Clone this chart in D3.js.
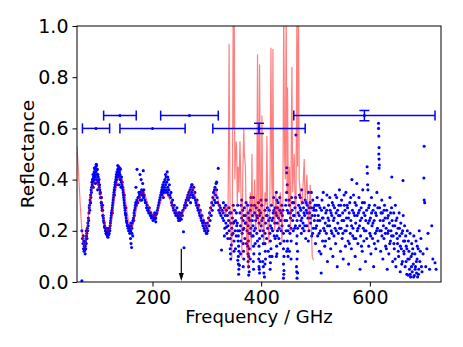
<!DOCTYPE html>
<html>
<head>
<meta charset="utf-8">
<script src="https://cdn.jsdelivr.net/npm/d3@7"></script>
<style>
body { margin: 0; background: #fff; }
text { font-family: "DejaVu Sans", sans-serif; }
</style>
</head>
<body>
<svg id="chart" width="463" height="347"></svg>
<script>
// axis ticks
var xTicks = [200, 400, 600];
var yTicks = [0, 0.2, 0.4, 0.6, 0.8, 1.0];

// measured reflectance, smooth part (freq GHz, reflectance)
var dotsRipple = [
  [70,0.005],[70,0.20],[71,0.17],[72,0.15],[72.5,0.18],[73,0.13],[73.5,0.16],[74,0.12],[74.5,0.14],[75,0.15],
  [75.5,0.125],[76,0.14],[76.5,0.16],[77,0.13],[77.5,0.17],[78,0.15],[78.5,0.18],[79,0.19],[79.5,0.17],[80,0.21],
  [80.5,0.2],[81,0.23],[81.5,0.22],[82,0.25],[82.5,0.24],[83,0.27],[83.5,0.29],[84,0.3],[84.5,0.28],[85,0.32],
  [85.5,0.31],[86,0.34],[86.5,0.33],[87,0.36],[87.5,0.35],[88,0.37],[88.5,0.39],[89,0.38],[89.5,0.4],[90,0.40],
  [90.5,0.42],[91,0.39],[91.5,0.41],[92,0.41],[92.5,0.43],[93,0.40],[93.5,0.42],[94,0.42],[94.5,0.44],[95,0.41],
  [95.5,0.45],[96,0.43],[96.5,0.46],[97,0.40],[97.5,0.44],[98,0.42],[98.5,0.44],[99,0.39],[99.5,0.42],[100,0.41],
  [100.5,0.39],[101,0.38],[101.5,0.40],[102,0.37],[102.5,0.38],[103,0.36],[103.5,0.345],[104,0.35],[104.5,0.33],[105,0.33],
  [105.5,0.31],[106,0.31],[106.5,0.3],[107,0.29],[107.5,0.28],[108,0.28],[108.5,0.26],[109,0.26],[109.5,0.25],[110,0.24],
  [110.5,0.235],[111,0.23],[111.5,0.215],[112,0.22],[113,0.21],[113.5,0.2],[114,0.20],[114.5,0.19],[115,0.19],[115.5,0.2],
  [116,0.185],[117,0.18],[117.5,0.2],[118,0.19],[119,0.20],[119.5,0.185],[120,0.19],[120.5,0.21],[121,0.21],[121.5,0.2],
  [122,0.22],[122.5,0.23],[123,0.24],[123.5,0.25],[124,0.26],[124.5,0.27],[125,0.27],[125.5,0.28],[126,0.29],[126.5,0.3],
  [127,0.31],[127.5,0.32],[128,0.33],[128.5,0.34],[129,0.35],[129.5,0.36],[130,0.36],[130.5,0.37],[131,0.38],[131.5,0.39],
  [132,0.39],[132.5,0.4],[133,0.41],[133.5,0.42],[134,0.40],[134.5,0.43],[135,0.42],[135.5,0.41],[136,0.44],[136.5,0.42],
  [137,0.43],[137.5,0.45],[138,0.41],[138.5,0.44],[139,0.43],[139.5,0.42],[140,0.42],[140.5,0.4],[141,0.44],[141.5,0.41],
  [142,0.40],[142.5,0.39],[143,0.41],[143.5,0.38],[144,0.39],[144.5,0.37],[145,0.37],[145.5,0.36],[146,0.35],[146.5,0.34],
  [147,0.33],[147.5,0.32],[148,0.31],[148.5,0.3],[149,0.29],[149.5,0.28],[150,0.27],[150.5,0.265],[151,0.26],[151.5,0.25],
  [152,0.24],[152.5,0.235],[153,0.23],[153.5,0.22],[154,0.22],[155,0.21],[155.5,0.22],[156,0.20],[157,0.22],[157.5,0.21],
  [158,0.19],[159,0.21],[159.5,0.17],[160,0.20],[160.5,0.15],[161,0.22],[161.5,0.135],[162,0.21],[163,0.23],[163.5,0.18],
  [164,0.24],[165,0.25],[165.5,0.24],[166,0.27],[166.5,0.26],[167,0.28],[168,0.29],[168.5,0.3],[169,0.31],[169.5,0.37],
  [170,0.30],[171,0.32],[171.5,0.44],[172,0.31],[173,0.31],[173.5,0.33],[174,0.33],[175,0.35],[175.5,0.33],[176,0.34],
  [177,0.42],[177.5,0.32],[178,0.35],[179,0.40],[179.5,0.34],[180,0.36],[181,0.34],[182,0.385],[182.5,0.35],[183,0.435],
  [183.5,0.33],[184,0.33],[185,0.34],[186,0.32],[187,0.31],[188,0.31],[189,0.29],[190,0.30],[191,0.28],[192,0.28],
  [193,0.27],[194,0.29],[195,0.27],[196,0.26],[197,0.27],[198,0.25],[199,0.26],[200,0.255],[201,0.24],[202,0.26],
  [203,0.25],[204,0.245],[205,0.26],[206,0.25],[207,0.265],[208,0.27],[209,0.28],[210,0.29],[211,0.30],[212,0.31],
  [213,0.32],[214,0.33],[215,0.34],[216,0.35],[217,0.36],[217.5,0.34],[218,0.37],[219,0.38],[219.5,0.35],[220,0.36],
  [221,0.39],[221.5,0.36],[222,0.37],[223,0.40],[223.5,0.35],[224,0.38],[225,0.41],[225.5,0.36],[226,0.39],[227,0.43],
  [227.5,0.35],[228,0.37],[229,0.40],[229.5,0.34],[230,0.36],[231,0.38],[232,0.34],[233,0.33],[234,0.35],[235,0.31],
  [236,0.30],[237,0.32],[238,0.29],[239,0.28],[240,0.30],[241,0.27],[242,0.28],[243,0.26],[244,0.27],[245,0.29],
  [246,0.26],[247,0.25],[248,0.27],[249,0.26],[250,0.24],[251,0.25],[252,0.26],[253,0.245],[254,0.27],[255,0.26],
  [256,0.28],[257,0.196],[258,0.134],[258.5,0.29],[259,0.30],[260,0.29],[261,0.31],[262,0.32],[263,0.30],[264,0.33],
  [265,0.34],[266,0.32],[267,0.35],[268,0.33],[269,0.36],[270,0.34],[271,0.37],[272,0.35],[273,0.38],[274,0.36],
  [275,0.34],[276,0.37],[277,0.33],[278,0.35],[279,0.32],[280,0.31],[281,0.30],[282,0.32],[283,0.29],[284,0.28],
  [285,0.30],[286,0.27],[287,0.26],[288,0.28],[289,0.25],[290,0.24],[291,0.26],[292,0.23],[293,0.22],[294,0.24],
  [295,0.21],[296,0.23],[297,0.20],[298,0.22],[299,0.19],[300,0.21],[301,0.23],[302,0.20],[303,0.25],[304,0.22],
  [305,0.27],[306,0.24],[307,0.29],[308,0.26],[309,0.31],[310,0.28],[311,0.33],[312,0.30],[312.5,0.35],[313,0.35],
  [314,0.32],[315,0.37],[316,0.34],[317,0.385],[318,0.36],[319,0.33],[320,0.31],[321,0.444],[322,0.28],[323,0.30],
  [324,0.27],[325,0.29],[326,0.26],[327,0.125],[328,0.28],[329,0.25],[330,0.27]
];

// spread of the ripple band around peaks and troughs
var dotsRippleSpread = [
  [76,0.11],[78,0.2],[86,0.31],[91,0.37],[93,0.445],[95,0.385],[97,0.455],[99,0.36],[106,0.33],[108,0.3],
  [116,0.21],[118,0.175],[126,0.27],[130,0.34],[134,0.38],[136,0.455],[138,0.38],[140,0.445],[142,0.37],[148,0.34],
  [151,0.29],[160,0.23],[162,0.19],[180,0.32],[184,0.36],[204,0.27],[206,0.235],[220,0.33],[224,0.42],[228,0.41],
  [248,0.24],[250,0.27],[270,0.31],[272,0.38],[274,0.33],[296,0.2],[300,0.19],[314,0.36],[316,0.31],[318,0.39]
];

// measured reflectance, noisy part 330-500 GHz
var dotsNoisyMid = [
  [331,0.24],[332,0.29],[333,0.21],[334,0.26],[335,0.23],[336,0.28],[337,0.19],[338,0.26],[339,0.22],[340,0.24],
  [341,0.2],[342,0.27],[343,0.17],[344,0.23],[345,0.145],[346,0.21],[347,0.25],[348,0.19],[349,0.23],[350,0.16],
  [351,0.28],[352,0.2],[353,0.24],[354,0.18],[355,0.22],
  [356,0.23],[357,0.2],[358,0.18],[357.5,0.16],[358.5,0.14],[359,0.12],[358,0.1],[357,0.085],[358,0.07],[359,0.05],[360,0.065],
  [361,0.27],[362,0.22],[363,0.3],[364,0.25],[365,0.19],[366,0.28],[367,0.24],[368,0.21],[369,0.29],[370,0.17],
  [371,0.26],[372,0.23],[373,0.15],
  [375,0.30],[376,0.27],[377,0.25],[376,0.22],[377.5,0.19],[376.5,0.16],[378,0.13],[377,0.1],[376,0.08],[377,0.06],[378,0.04],[377,0.027],
  [379,0.24],[380,0.28],[381,0.21],[382,0.3],[383,0.18],[384,0.26],[385,0.22],[386,0.33],[387,0.2],[388,0.27],
  [389,0.15],[390,0.24],[391,0.29],[392,0.19],[393,0.25],
  [395,0.31],[396,0.28],[397,0.26],[396,0.23],[398,0.2],[397,0.17],[396,0.14],[397,0.11],[398,0.08],[396,0.06],[397,0.035],
  [399,0.27],[400,0.22],[401,0.3],[402,0.18],[403,0.25],[404,0.2],[405,0.035],[406,0.02],[404,0.06],[407,0.28],
  [408,0.23],[409,0.32],[410,0.17],[411,0.26],[412,0.21],[413,0.12],
  [415,0.28],[416,0.25],[417,0.22],[416,0.19],[417,0.16],[418,0.13],[416,0.1],[417,0.075],
  [419,0.3],[420,0.24],[421,0.2],[422,0.27],[423,0.33],[424,0.18],[425,0.23],[426,0.29],
  [428,0.35],[429,0.32],[430,0.29],[428.5,0.26],[429.5,0.23],[430,0.2],[429,0.18],
  [432,0.25],[433,0.21],[434,0.28],[435,0.15],[436,0.24],[437,0.2],[438,0.3],[439,0.26],
  [441,0.19],[442,0.16],[441,0.13],[442,0.1],[441,0.07],[442,0.045],[441,0.015],
  [447,0.446],[447,0.427],[448,0.38],[447,0.35],[446,0.32],[448,0.28],[447,0.24],[446,0.2],[448,0.16],[447,0.12],
  [450,0.27],[451,0.22],[452,0.3],[453,0.19],[454,0.25],[455,0.21],[456,0.33],[457,0.28],[458,0.24],[459,0.2],
  [460,0.31],[461,0.26],[462,0.29],[463,0.22],[464,0.574],
  [466,0.24],[467,0.21],[466,0.18],[465,0.15],[467,0.12],[466,0.09],[465,0.06],[467,0.035],[466,0.015],
  [469,0.3],[470,0.26],[471,0.22],[472,0.33],[473,0.28],[474,0.19],[475,0.25],[476,0.31],[477,0.23],[478,0.29],
  [479,0.2],[480,0.26],[481,0.32],[482,0.17],[483,0.28],[484,0.22],[485,0.3],[486,0.25],[487,0.35],[488,0.2],
  [489,0.27],[490,0.31],[491,0.23],[492,0.29],[493,0.18],[494,0.26],[495,0.32],[496,0.21],[497,0.28],[498,0.24],
  [499,0.3],[500,0.15]
];

// low-lying points of the streaks between 340 and 470 GHz
var dotsStreakLow = [
  [343,0.13],[343.5,0.11],[344,0.09],[350,0.12],[358.5,0.03],[362,0.11],[367,0.15],[367.5,0.12],[368,0.09],[367,0.06],
  [375.5,0.14],[376,0.11],[380,0.09],[386,0.14],[386.5,0.11],[385.5,0.08],[386,0.05],[395.5,0.09],[396.5,0.05],[403,0.08],
  [407,0.15],[407.5,0.12],[408,0.09],[407,0.07],[416.5,0.05],[420,0.1],[428.5,0.14],[429,0.11],[428,0.1],[441.5,0.03],
  [449,0.13],[449.5,0.1],[452,0.12],[455,0.09],[465.5,0.04]
];

// measured reflectance, noisy part above 500 GHz
var dotsNoisyHigh = [
  [501,0.28],[502,0.22],[503,0.33],[504,0.18],[505,0.26],[506,0.3],[507,0.12],[508,0.24],[509,0.2],[510,0.11],
  [510.5,0.035],[511,0.28],[512,0.32],[513,0.16],[514,0.25],[515,0.21],[516,0.29],[517,0.14],[518,0.23],[519,0.27],
  [520,0.19],[521,0.34],[522,0.08],[523,0.25],[524,0.3],[525,0.17],[526,0.22],[527,0.28],[528,0.13],[529,0.2],
  [530,0.26],[531,0.31],[532,0.1],[533,0.24],[534,0.18],[535,0.29],[536,0.21],[537,0.15],[538,0.27],[539,0.33],
  [540,0.06],[541,0.23],[542,0.19],[543,0.3],[544,0.36],[545,0.26],[546,0.12],[547,0.21],[548,0.32],[549,0.17],
  [550,0.27],[551,0.09],[552,0.24],[553,0.3],[554,0.2],[555,0.14],[556,0.35],[557,0.25],[558,0.22],[559,0.29],
  [560,0.16],[561,0.07],[562,0.27],[563,0.31],[564,0.19],[565,0.24],[566,0.13],[567,0.40],[568,0.28],[569,0.21],
  [570,0.34],[571,0.17],[572,0.26],[573,0.1],[574,0.23],[575,0.3],[576,0.385],[577,0.2],[578,0.15],[579,0.27],
  [580,0.33],[581,0.22],[582,0.05],[583,0.18],[584,0.29],[585,0.25],[586,0.12],[587,0.36],[588,0.21],[589,0.16],
  [590,0.31],[591,0.26],[592,0.08],[593,0.2],[594,0.28],[595,0.45],[595.5,0.425],[596,0.38],[596.5,0.36],[597,0.23],
  [598,0.14],[599,0.3],[600,0.19],[601,0.25],[602,0.11],[603,0.33],[604,0.22],[605,0.17],[606,0.28],[607,0.06],
  [608,0.24],[609,0.3],[610,0.19],[611,0.13],[612,0.26],[613,0.35],[614,0.21],[615,0.16],
  [616,0.62],[616,0.6],[616.5,0.57],[617,0.525],[616.5,0.50],[617,0.48],[617.5,0.457],[617,0.445],
  [618,0.29],[619,0.24],[620,0.12],[621,0.2],[622,0.32],[623,0.27],[624,0.09],[625,0.22],[626,0.17],[627,0.3],
  [628,0.25],[629,0.14],[630,0.21],[631,0.28],[632,0.05],[633,0.19],[634,0.26],[635,0.11],[636,0.23],[637,0.33],
  [638,0.16],[639,0.2],[640,0.29],[640.5,0.41],[641,0.24],[642,0.08],[643,0.18],[644,0.27],[645,0.13],[646,0.22],
  [647,0.3],[648,0.06],[649,0.19],[650,0.25],[651,0.15],[652,0.21],[653,0.1],[654,0.27],[655,0.18],[656,0.04],
  [657,0.23],[658,0.13],[659,0.19],[660,0.08],[661,0.396],[661.5,0.26],[662,0.16],[663,0.11],[664,0.22],[665,0.06],
  [666,0.18],[667,0.14],[668,0.03],[669,0.2],[670,0.09],[670.5,0.027],[671,0.16],[672,0.12],[673,0.05],[674,0.19],
  [675,0.02],[676,0.1],[677,0.15],[678,0.04],[679,0.13],[680,0.07],[681,0.18],[682,0.025],[683,0.11],[684,0.06],
  [685,0.16],[686,0.035],[687,0.09],[688,0.02],[689,0.13],[690,0.05],[691,0.2],[692,0.08],[694,0.17],[696,0.04],
  [698,0.11],[700,0.53],[699.5,0.406],[700,0.32],[701,0.31],[703,0.06],[705,0.13],[707,0.19],[710,0.05],[714,0.22],
  [716,0.09],[720,0.075],[722,0.05]
];

// more of the noisy cloud read between the points above
var dotsNoisyExtra = [
  [330.5,0.31],[332.3,0.18],[334.6,0.3],[336.2,0.215],[338.7,0.17],[340.4,0.29],[344.8,0.27],[346.3,0.185],[348.6,0.3],[350.2,0.235],
  [352.7,0.13],[354.4,0.27],[356.8,0.3],[360.3,0.2],[362.6,0.16],[364.2,0.32],[366.7,0.205],[368.3,0.26],[370.6,0.23],[372.2,0.31],
  [374,0.2],[379.6,0.19],[381.3,0.33],[383.7,0.24],[385.2,0.18],[387.8,0.3],[389.4,0.21],[391.7,0.26],[393.2,0.16],
  [399.6,0.32],[401.3,0.24],[403.8,0.15],[407.2,0.19],[409.7,0.26],[411.4,0.29],[413.6,0.24],[419.3,0.21],[421.8,0.25],[423.4,0.28],
  [425.7,0.17],[427,0.27],[431,0.31],[432.6,0.17],[434.3,0.33],[436.8,0.27],[438.4,0.22],[440,0.28],[443.7,0.24],[445,0.3],
  [449.6,0.2],[451.3,0.32],[453.8,0.27],[455.2,0.16],[457.7,0.31],[459.4,0.26],[461.6,0.21],[463.3,0.33],[468,0.27],
  [470.4,0.34],[471.7,0.29],[473.2,0.24],[474.6,0.36],[476.3,0.21],[478.8,0.27],[480.3,0.22],[482.7,0.31],[484.4,0.27],[486.8,0.16],
  [488.2,0.29],[490.6,0.25],[492.3,0.35],[494.7,0.19],[496.4,0.29],[498.8,0.26],[500.3,0.21],[502.6,0.3],[504.2,0.24],[506.7,0.19],
  [508.3,0.29],[512.6,0.25],[514.3,0.35],[516.8,0.2],[518.4,0.16],[520.7,0.28],[522.2,0.22],[524.6,0.24],[526.3,0.33],[528.7,0.27],
  [530.4,0.19],[532.8,0.3],[534.3,0.25],[536.6,0.34],[538.2,0.2],
  [540.7,0.28],[542.3,0.26],[544.6,0.21],[546.2,0.3],[548.8,0.24],[550.4,0.19],[552.7,0.34],[554.3,0.28],[556.6,0.2],[558.2,0.3],
  [560.7,0.25],[562.3,0.15],[564.8,0.33],[566.4,0.22],[568.6,0.18],[570.3,0.27],[572.7,0.31],[574.2,0.17],[576.6,0.26],[578.3,0.21],
  [580.8,0.28],[582.4,0.24],[584.6,0.14],[586.3,0.31],[588.7,0.27],[590.2,0.2],[592.6,0.24],[594.3,0.17],[597.7,0.29],[599.3,0.24],
  [601.6,0.18],[603.2,0.27],[605.7,0.23],[608.3,0.15],[610.6,0.27],[612.4,0.2],[614.7,0.29],[618.3,0.2],
  [620.6,0.27],[622.3,0.18],[624.7,0.24],[626.2,0.28],[628.6,0.19],[630.4,0.13],[632.7,0.25],[634.3,0.2],[636.6,0.15],[638.2,0.27],
  [640,0.18],[642.7,0.22],[644.3,0.15],[646.6,0.09],[648.2,0.24],[650.7,0.17],[652.3,0.12],[654.6,0.21],[656.2,0.14],[658.7,0.07],
  [660.4,0.2],[662.6,0.12],[664.3,0.16],[666.7,0.08],[668.2,0.13],[672.6,0.09],[674.3,0.03],[676.7,0.06],[678.3,0.11],[680.6,0.02],
  [683.4,0.05],[685.7,0.08],[687.3,0.14],[689.6,0.03],[693,0.12],[695,0.06]
];

// model / transmission-line fit (freq GHz, reflectance)
var redLine = [
  [61,0.53],[64,0.42],[67,0.30],[70,0.20],[73,0.145],[75,0.14],[77,0.16],[80,0.22],[83,0.28],[86,0.33],
  [89,0.37],[92,0.39],[96,0.395],[100,0.38],[104,0.34],[108,0.28],[112,0.23],[116,0.20],[120,0.20],[123,0.22],
  [127,0.28],[131,0.34],[135,0.39],[139,0.41],[143,0.405],[147,0.37],[151,0.31],[155,0.25],[158,0.22],[161,0.21],
  [164,0.22],[168,0.26],[172,0.30],[176,0.33],[180,0.35],[184,0.35],[188,0.33],[192,0.30],[196,0.28],[200,0.26],
  [205,0.255],[209,0.27],[213,0.30],[218,0.33],[222,0.345],[226,0.345],[230,0.33],[234,0.31],[238,0.29],[242,0.28],
  [246,0.27],[250,0.255],[254,0.26],[258,0.28],[262,0.31],[266,0.34],[270,0.355],[274,0.37],[277,0.35],[281,0.32],
  [285,0.30],[288,0.28],[292,0.26],[295,0.24],[298,0.22],[300,0.21],[303,0.24],[306,0.28],[309,0.31],[313,0.35],
  [317,0.36],[320,0.33],[323,0.29],[326,0.28],[330,0.27],[333,0.29],[335,0.26],[337,0.30],[339,0.28],[340,0.55],
  [341,0.93],[342,0.5],[343,0.25],[345,0.15],[346,0.094],[347,0.3],[348.5,1.08],[349.5,0.6],[350.4,1.08],[351.5,0.4],
  [353,0.5],[354,0.55],[355,0.5],[356,0.3],[357.5,0.45],[359,0.35],[361,0.55],[362,0.45],[363.5,0.25],[364.6,0.094],
  [366,0.4],[368,0.6],[369,0.5],[371,0.45],[372,0.3],[373.8,0.1],[375,0.3],[376.2,0.05],[378,0.25],[380,0.35],
  [381.7,0.12],[383,0.5],[384,0.3],[386,0.25],[388,0.4],[390,0.2],[392,0.35],[393.3,0.89],[394.5,0.3],[395.5,0.2],
  [397,0.85],[398.5,0.35],[400,0.2],[401.4,0.65],[403,0.25],[405,0.15],[407,0.35],[409,0.3],[410.6,0.57],[412,0.25],
  [414,0.15],[416,0.3],[418,0.915],[419.5,0.4],[420.5,0.3],[421.6,0.91],[423,0.3],[425,0.2],[427,0.35],[429,0.25],
  [431,0.3],[433,0.2],[435,0.35],[436.5,0.3],[438.2,0.15],[440,0.3],[441.5,1.08],[443,0.5],[444.5,0.4],[446,1.08],
  [447.5,0.35],[448.5,0.76],[450,0.3],[452,0.45],[454,0.2],[456.6,0.84],[458,0.35],[460.8,0.5],[462.5,0.3],[464,0.25],
  [465.8,1.08],[467,0.45],[468.7,1.08],[470,0.4],[472,0.35],[474,0.3],[476,0.32],[479.2,0.48],[481,0.3],[484.2,0.42],
  [486,0.3],[487.5,0.2],[490.3,0.38],[492,0.25],[494,0.1],[496.3,0.085]
];

// frequency-resolution error bars
var errFreq = [96, 200, 396, 140, 268, 590];
var errRefl = [0.6, 0.6, 0.6, 0.65, 0.65, 0.65];
var errFreqHalf = [25, 60, 85, 30, 53, 130];
var errReflHalf = [0, 0, 0.02, 0, 0, 0.02];

// arrow marker
var arrowFreq = 253;
var arrowTop = 0.13;

var svg_el = '#chart';
var margin = {top: 26, right: 22, bottom: 65, left: 77},
    width = +d3.select(svg_el).attr('width') - margin.left - margin.right,
    height = +d3.select(svg_el).attr('height') - margin.top - margin.bottom;

var x = d3.scaleLinear().domain([61, 731]).range([0, width]);
var y = d3.scaleLinear().domain([0, 1]).range([height, 0]);

var svg = d3.select(svg_el)
  .append('g')
    .attr('transform', 'translate(' + margin.left + ',' + margin.top + ')');

svg.append('clipPath').attr('id', 'plotclip')
  .append('rect').attr('width', width).attr('height', height);

var plot = svg.append('g').attr('clip-path', 'url(#plotclip)');

// blue dots
var allDots = dotsRipple.concat(dotsRippleSpread, dotsNoisyMid, dotsStreakLow, dotsNoisyHigh, dotsNoisyExtra);
plot.selectAll('.dot')
    .data(allDots)
  .enter().append('circle')
    .attr('class', 'dot')
    .attr('cx', function(d) { return x(d[0]); })
    .attr('cy', function(d) { return y(d[1]); })
    .attr('r', 1.55)
    .attr('fill', '#0000ff');

// red line on top, semi transparent
plot.append('path')
    .datum(redLine)
    .attr('fill', 'none')
    .attr('stroke', '#ff0000')
    .attr('stroke-opacity', 0.5)
    .attr('stroke-width', 1.2)
    .attr('d', d3.line()
      .x(function(d) { return x(d[0]); })
      .y(function(d) { return y(d[1]); }));

// error bars
var cap = 5;
errFreq.forEach(function(f, i) {
  var g = svg.append('g').attr('stroke', '#0000ff').attr('stroke-width', 1.5);
  var cy = y(errRefl[i]);
  var x0 = x(f - errFreqHalf[i]), x1 = x(f + errFreqHalf[i]);
  g.append('line').attr('x1', x0).attr('x2', x1).attr('y1', cy).attr('y2', cy);
  g.append('line').attr('x1', x0).attr('x2', x0).attr('y1', cy - cap).attr('y2', cy + cap);
  g.append('line').attr('x1', x1).attr('x2', x1).attr('y1', cy - cap).attr('y2', cy + cap);
  if (errReflHalf[i] > 0) {
    var cx = x(f);
    var y0 = y(errRefl[i] - errReflHalf[i]), y1 = y(errRefl[i] + errReflHalf[i]);
    g.append('line').attr('x1', cx).attr('x2', cx).attr('y1', y0).attr('y2', y1);
    g.append('line').attr('x1', cx - cap).attr('x2', cx + cap).attr('y1', y0).attr('y2', y0);
    g.append('line').attr('x1', cx - cap).attr('x2', cx + cap).attr('y1', y1).attr('y2', y1);
  }
  svg.append('circle').attr('cx', x(f)).attr('cy', cy).attr('r', 1.5).attr('fill', '#0000ff');
});

// arrow
var ax = x(arrowFreq);
svg.append('line')
    .attr('x1', ax).attr('x2', ax)
    .attr('y1', y(arrowTop)).attr('y2', y(0) - 6)
    .attr('stroke', '#000').attr('stroke-width', 1.2);
svg.append('path')
    .attr('d', 'M' + (ax - 2.5) + ',' + (y(0) - 9) + 'L' + (ax + 2.5) + ',' + (y(0) - 9) + 'L' + ax + ',' + (y(0) - 1) + 'Z')
    .attr('fill', '#000');

// axes
var xAxis = svg.append('g')
    .attr('transform', 'translate(0,' + height + ')')
    .call(d3.axisBottom(x).tickValues(xTicks).tickSize(4.5).tickPadding(4).tickFormat(d3.format('d')));
var yAxis = svg.append('g')
    .call(d3.axisLeft(y).tickValues(yTicks).tickSize(4.5).tickPadding(4).tickFormat(d3.format('.1f')));
[xAxis, yAxis].forEach(function(a) {
  a.selectAll('text').attr('font-size', 19).attr('font-family', 'DejaVu Sans').attr('fill', '#000');
  a.selectAll('line').attr('stroke', '#000');
  a.select('.domain').remove();
});

// frame
svg.append('rect')
    .attr('width', width).attr('height', height)
    .attr('fill', 'none').attr('stroke', '#000').attr('stroke-width', 1);

// labels
svg.append('text')
    .attr('x', width / 2).attr('y', height + 41)
    .attr('text-anchor', 'middle')
    .attr('font-size', 18)
    .text('Frequency / GHz');
svg.append('text')
    .attr('transform', 'translate(' + (34 - margin.left) + ',' + (height / 2) + ') rotate(-90)')
    .attr('text-anchor', 'middle')
    .attr('font-size', 18.5)
    .text('Reflectance');
</script>
</body>
</html>
